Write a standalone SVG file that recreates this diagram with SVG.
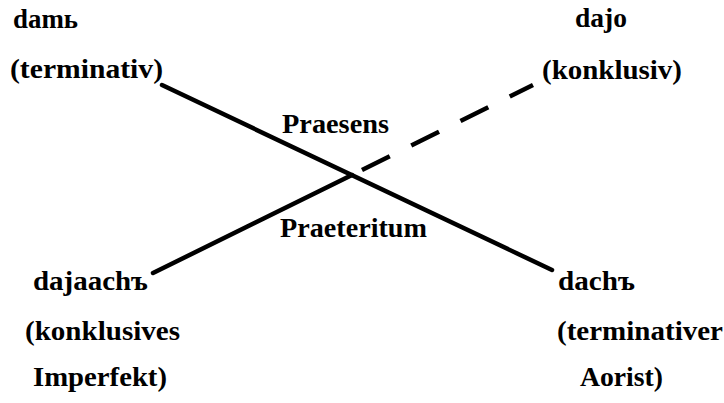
<svg xmlns="http://www.w3.org/2000/svg" width="724" height="403" viewBox="0 0 724 403">
<style>
text{font-family:"Liberation Serif","DejaVu Serif",serif;font-weight:bold;font-size:28px;fill:#000}
.ln{stroke:#000;stroke-width:4.5;fill:none;stroke-linecap:round}
.dash{stroke-dasharray:31 24;stroke-linecap:butt}
</style>
<rect width="724" height="403" fill="#fff"/>
<g id="connectors">
<line class="ln" x1="162" y1="85" x2="552" y2="270"/>
<line class="ln" x1="153" y1="273" x2="352" y2="175"/>
<line class="ln dash" x1="362" y1="170" x2="533" y2="85"/>
</g>
<g id="node-dam"><text x="13" y="28" textLength="65" lengthAdjust="spacingAndGlyphs">damь</text>
<text x="10" y="78" textLength="153" lengthAdjust="spacingAndGlyphs">(terminativ)</text></g>
<g id="node-dajo"><text x="575" y="27" textLength="52" lengthAdjust="spacingAndGlyphs">dajo</text>
<text x="542" y="79" textLength="140" lengthAdjust="spacingAndGlyphs">(konklusiv)</text></g>
<g id="label-praesens"><text x="282" y="133" textLength="107" lengthAdjust="spacingAndGlyphs">Praesens</text></g>
<g id="label-praeteritum"><text x="280" y="237" textLength="147" lengthAdjust="spacingAndGlyphs">Praeteritum</text></g>
<g id="node-dajaach"><text x="33" y="290" textLength="115" lengthAdjust="spacingAndGlyphs">dajaachъ</text>
<text x="25" y="340" textLength="155" lengthAdjust="spacingAndGlyphs">(konklusives</text>
<text x="33" y="386" textLength="134" lengthAdjust="spacingAndGlyphs">Imperfekt)</text></g>
<g id="node-dach"><text x="558" y="290" textLength="77" lengthAdjust="spacingAndGlyphs">dachъ</text>
<text x="557" y="340" textLength="166" lengthAdjust="spacingAndGlyphs">(terminativer</text>
<text x="580" y="386" textLength="83" lengthAdjust="spacingAndGlyphs">Aorist)</text></g>
</svg>
